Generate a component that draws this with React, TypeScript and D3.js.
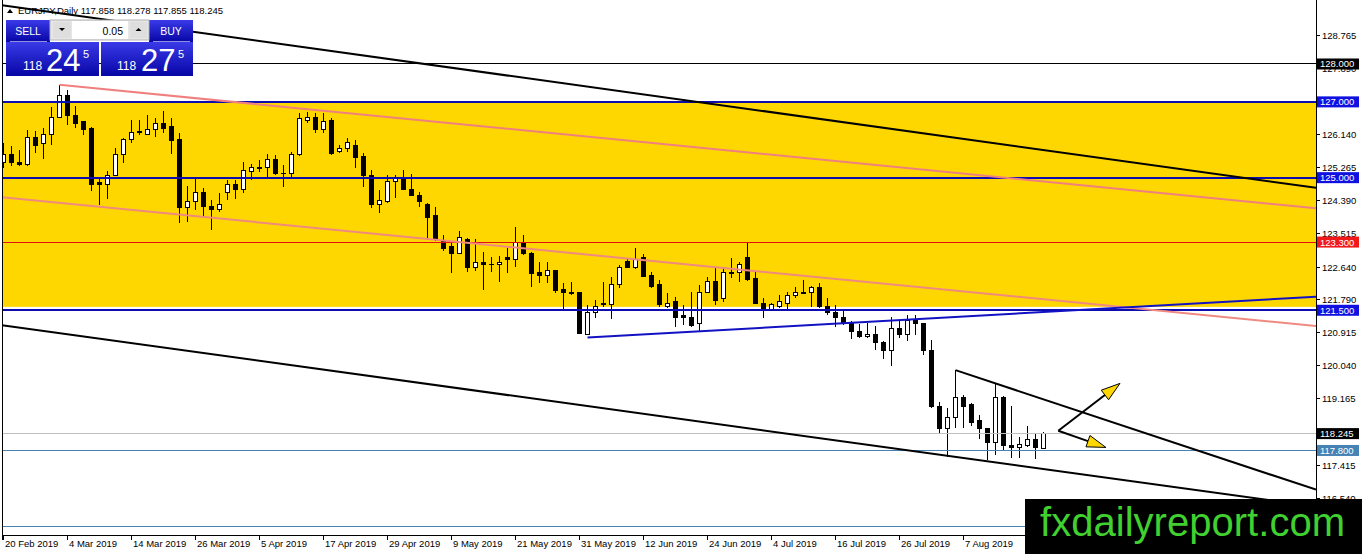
import React from 'react'
import * as d3 from 'd3'

// EURJPY daily candles, 20 Feb 2019 .. 21 Aug 2019
const opens = [
  125.41, 125.62, 125.41, 125.34, 126.07, 125.89, 126.15, 126.6, 127.16, 126.65,
  126.47, 126.31, 124.86, 124.81, 125.07, 125.6, 126.02, 126.23, 126.13, 126.26,
  126.42, 126.34, 126.02, 124.2, 124.36, 124.62, 124.23, 124.15, 124.62, 124.81,
  124.7, 125.15, 125.26, 125.26, 125.49, 125.12, 125.1, 125.6, 126.5, 126.58,
  126.28, 126.5, 125.68, 125.76, 125.86, 125.55, 125.07, 124.3, 124.36, 124.89,
  124.97, 124.7, 124.54, 124.3, 123.99, 123.33, 123.17, 123.01, 123.38, 122.62,
  122.75, 122.72, 122.72, 122.88, 122.85, 123.28, 123.01, 122.51, 122.43, 122.54,
  122.04, 121.96, 121.96, 120.87, 121.45, 121.64, 121.64, 122.19, 122.8, 122.64,
  122.88, 122.43, 122.17, 121.59, 121.72, 121.35, 121.32, 121.14, 121.98, 122.27,
  121.8, 122.48, 122.51, 122.88, 122.33, 121.69, 121.53, 121.61, 121.67, 121.88,
  121.98, 121.98, 122.09, 121.59, 121.45, 121.3, 121.17, 120.95, 120.82, 120.87,
  120.66, 120.45, 121.03, 120.85, 121.24, 121.14, 120.45, 118.97, 118.37, 118.68,
  119.21, 119.0, 118.58, 118.37, 118.02, 119.21, 117.94, 117.87, 117.94, 118.1,
  117.858,
]
const highs = [
  125.92, 125.84, 125.73, 126.26, 126.23, 126.31, 126.87, 127.45, 127.31, 126.89,
  126.5, 126.33, 124.99, 125.18, 125.78, 126.05, 126.52, 126.52, 126.65, 126.58,
  126.76, 126.58, 126.18, 124.78, 125.02, 124.73, 124.41, 124.6, 124.94, 124.94,
  125.41, 125.36, 125.47, 125.62, 125.6, 125.33, 125.68, 126.71, 126.73, 126.71,
  126.71, 126.58, 125.86, 126.05, 125.99, 125.65, 125.2, 124.67, 125.07, 125.07,
  125.2, 125.1, 124.62, 124.32, 124.23, 123.49, 123.28, 123.59, 123.4, 123.38,
  123.04, 122.91, 122.93, 123.14, 123.7, 123.49, 123.03, 122.77, 122.77, 122.56,
  122.22, 122.25, 121.98, 121.64, 121.77, 122.25, 122.38, 122.7, 122.88, 123.14,
  122.99, 122.51, 122.3, 121.96, 121.85, 121.64, 121.98, 122.17, 122.38, 122.62,
  122.64, 122.88, 122.77, 123.3, 122.51, 121.82, 121.69, 121.9, 121.98, 122.12,
  122.3, 122.14, 122.22, 121.82, 121.64, 121.48, 121.22, 121.14, 121.17, 121.09,
  120.68, 121.32, 121.24, 121.38, 121.38, 121.16, 120.72, 119.08, 118.92, 119.92,
  119.26, 119.05, 118.74, 118.39, 119.58, 119.24, 118.97, 118.16, 118.45, 118.26,
  118.278,
]
const lows = [
  125.26, 125.31, 125.31, 125.31, 125.65, 125.49, 125.86, 126.58, 126.39, 126.31,
  126.13, 124.65, 124.28, 124.44, 125.05, 125.39, 125.92, 126.13, 126.12, 126.07,
  126.18, 125.62, 123.8, 123.83, 124.15, 123.96, 123.62, 124.09, 124.41, 124.44,
  124.6, 124.94, 125.15, 124.96, 125.07, 124.75, 124.99, 125.58, 126.44, 126.18,
  126.18, 125.6, 125.64, 125.68, 125.26, 124.75, 124.2, 124.07, 124.34, 124.46,
  124.68, 124.52, 124.23, 123.35, 123.33, 123.07, 122.48, 122.99, 122.51, 122.54,
  122.03, 122.51, 122.25, 122.48, 122.64, 122.96, 122.12, 122.22, 122.22, 121.96,
  121.53, 121.9, 120.87, 120.85, 121.3, 121.59, 121.27, 122.09, 122.62, 122.59,
  122.38, 122.09, 121.59, 121.57, 121.06, 121.11, 121.06, 120.93, 121.95, 121.64,
  121.72, 122.35, 122.25, 122.28, 121.67, 121.3, 121.52, 121.56, 121.53, 121.82,
  121.92, 121.59, 121.56, 121.38, 121.06, 121.11, 120.74, 120.77, 120.77, 120.45,
  120.21, 120.03, 120.77, 120.69, 120.85, 120.32, 118.92, 118.26, 117.63, 118.39,
  118.39, 118.45, 118.1, 117.55, 117.68, 117.81, 117.6, 117.6, 117.89, 117.57,
  117.855,
]
const closes = [
  125.6, 125.41, 125.36, 126.07, 125.86, 126.15, 126.6, 127.16, 126.65, 126.44,
  126.28, 124.83, 124.81, 125.07, 125.62, 126.02, 126.18, 126.18, 126.28, 126.42,
  126.31, 125.99, 124.2, 124.36, 124.6, 124.23, 124.15, 124.3, 124.81, 124.7,
  125.18, 125.26, 125.23, 125.49, 125.1, 125.1, 125.6, 126.55, 126.58, 126.26,
  126.47, 125.65, 125.78, 125.94, 125.52, 125.07, 124.28, 124.41, 124.91, 124.97,
  124.7, 124.54, 124.38, 123.96, 123.38, 123.14, 123.01, 123.43, 122.62, 122.75,
  122.72, 122.71, 122.77, 122.85, 123.28, 123.01, 122.48, 122.43, 122.54, 122.01,
  121.96, 121.95, 120.9, 121.43, 121.61, 121.67, 122.19, 122.62, 122.64, 122.85,
  122.4, 122.14, 121.64, 121.69, 121.32, 121.32, 121.11, 121.96, 122.27, 121.77,
  122.51, 122.51, 122.7, 122.3, 121.69, 121.53, 121.64, 121.72, 121.9, 121.96,
  121.94, 122.09, 121.59, 121.45, 121.3, 121.17, 120.95, 120.82, 120.87, 120.66,
  120.45, 121.03, 120.85, 121.22, 121.14, 120.43, 118.95, 118.39, 118.68, 119.21,
  118.97, 118.55, 118.37, 118.02, 119.21, 117.92, 117.87, 117.97, 118.1, 117.89,
  118.245,
]

const dateTicks = [
  '20 Feb 2019', '4 Mar 2019', '14 Mar 2019', '26 Mar 2019', '5 Apr 2019', '17 Apr 2019',
  '29 Apr 2019', '9 May 2019', '21 May 2019', '31 May 2019', '12 Jun 2019', '24 Jun 2019',
  '4 Jul 2019', '16 Jul 2019', '26 Jul 2019', '7 Aug 2019',
]
const priceTicks = [
  128.765, 127.89, 127.015, 126.14, 125.265, 124.39, 123.515, 122.64, 121.79, 120.915,
  120.04, 119.165, 118.29, 117.415, 116.54,
]

// horizontal levels
const blueLevels = [127.0, 125.0, 121.5]
const blackLevel = 128.0
const redLevel = 123.3
const steelLevels = [117.8, 115.8]
const bid = 118.245
const zone = [121.59, 126.98]

// trend lines: [bar index, price]
const channelTop = [[0, 129.544], [130, 125.73]]
const channelBottom = [[0, 121.1], [130, 117.31]]
const pinkTop = [[7, 127.45], [130, 124.9]]
const pinkBottom = [[0, 124.48], [130, 121.79]]
const blueRising = [[73, 120.78], [111, 121.23]]
const wedgeTop = [[119, 119.92], [130, 119.15]]
const arrowStart = [131.85, 118.32]
const arrowTips = [[139.56, 119.57], [137.8, 117.88]]

const W = 1362
const H = 554
const left = 2
const right = 1316
const top = 2
const bottom = 535
const font = "'Liberation Sans', Arial, sans-serif"

const days = d3
  .timeDays(new Date(2019, 1, 20), new Date(2019, 7, 22))
  .filter(d => d.getDay() !== 0 && d.getDay() !== 6)
const fmt = d3.timeFormat('%-d %b %Y')

const x = d3.scaleLinear().domain([0, closes.length - 1]).range([3.5, 1043.5])
const y = d3.scaleLinear().domain([115.569, 129.636]).range([bottom, top])

const fmt3 = d3.format('.3f')

function extend(pts: number[][], both: boolean) {
  const x1 = x(pts[0][0]), y1 = y(pts[0][1])
  const x2 = x(pts[1][0]), y2 = y(pts[1][1])
  const k = (y2 - y1) / (x2 - x1)
  const xs = both ? left : x1
  return { x1: xs, y1: y1 + k * (xs - x1), x2: right, y2: y1 + k * (right - x1) }
}

function arrow(from: number[], to: number[]) {
  const x1 = x(from[0]), y1 = y(from[1])
  const x2 = x(to[0]), y2 = y(to[1])
  const a = Math.atan2(y2 - y1, x2 - x1)
  const len = 19, half = 6
  const bx = x2 - len * Math.cos(a), by = y2 - len * Math.sin(a)
  const nx = -Math.sin(a) * half, ny = Math.cos(a) * half
  return {
    shaft: { x1, y1, x2: bx, y2: by },
    head: `${x2},${y2} ${bx + nx},${by + ny} ${bx - nx},${by - ny}`,
  }
}

const PriceTag = ({ v, bg }: { v: number; bg: string }) => (
  <g>
    <rect x={1317} y={y(v) - 5.5} width={42} height={11} fill={bg} />
    <text x={1320} y={y(v) + 3.5} fill="#fff" fontSize={9.5} fontFamily={font}>
      {fmt3(v)}
    </text>
  </g>
)

const App = () => {
  const lines = [
    { l: extend(channelTop, true), c: '#000', w: 2 },
    { l: extend(channelBottom, true), c: '#000', w: 2 },
    { l: extend(pinkTop, false), c: '#f08080', w: 2 },
    { l: extend(pinkBottom, true), c: '#f08a80', w: 2 },
    { l: extend(blueRising, false), c: '#1212c4', w: 2 },
    { l: extend(wedgeTop, false), c: '#000', w: 2 },
  ]
  const arrows = arrowTips.map(t => arrow(arrowStart, t))

  return (
    <>
      <style>{`body{margin:0}`}</style>
      <svg width={W} height={H} style={{ display: 'block' }}>
        <defs>
          <clipPath id="plot">
            <rect x={left} y={top} width={right - left} height={bottom - top} />
          </clipPath>
          <linearGradient id="btn" x1="0" y1="0" x2="0" y2="1">
            <stop offset="0" stopColor="#3a3ae8" />
            <stop offset="1" stopColor="#0606a6" />
          </linearGradient>
        </defs>
        <rect width={W} height={H} fill="#fff" />

        <g clipPath="url(#plot)">
          <rect
            x={left}
            y={y(zone[1])}
            width={right - left}
            height={y(zone[0]) - y(zone[1])}
            fill="#ffd700"
          />

          {/* candles */}
          <g shapeRendering="crispEdges">
            {closes.map((c, i) => {
              const o = opens[i]
              const cx = x(i)
              const yt = y(Math.max(o, c))
              const yb = y(Math.min(o, c))
              return (
                <g key={i}>
                  <line x1={cx} x2={cx} y1={y(highs[i])} y2={y(lows[i])} stroke="#000" />
                  <rect
                    x={cx - 2}
                    y={yt}
                    width={4}
                    height={Math.max(yb - yt, 0)}
                    fill={c >= o ? '#fff' : '#000'}
                    stroke="#000"
                  />
                </g>
              )
            })}
          </g>

          {/* levels */}
          <g shapeRendering="crispEdges">
            <line x1={left} x2={right} y1={y(blackLevel)} y2={y(blackLevel)} stroke="#000" />
            <line x1={left} x2={right} y1={y(redLevel)} y2={y(redLevel)} stroke="#e01010" />
            <line x1={left} x2={right} y1={y(bid)} y2={y(bid)} stroke="#c0c0c0" />
            {steelLevels.map(v => (
              <line key={v} x1={left} x2={right} y1={y(v)} y2={y(v)} stroke="#4682b4" />
            ))}
            {blueLevels.map(v => (
              <line key={v} x1={left} x2={right} y1={y(v)} y2={y(v)} stroke="#0c0cb0" strokeWidth={2} />
            ))}
          </g>

          {lines.map((d, i) => (
            <line key={i} {...d.l} stroke={d.c} strokeWidth={d.w} />
          ))}

          {arrows.map((a, i) => (
            <g key={i}>
              <line {...a.shaft} stroke="#000" strokeWidth={2} />
              <polygon points={a.head} fill="#ffd700" stroke="#000" strokeWidth={1} />
            </g>
          ))}
        </g>

        {/* frame and axes */}
        <g shapeRendering="crispEdges" stroke="#000">
          <line x1={left + 0.5} x2={left + 0.5} y1={0} y2={bottom + 5} />
          <line x1={left} x2={right} y1={bottom + 0.5} y2={bottom + 0.5} />
          <line x1={right + 0.5} x2={right + 0.5} y1={0} y2={H} />
        </g>

        {priceTicks.map(t => (
          <g key={t}>
            <line x1={right} x2={right + 4} y1={y(t)} y2={y(t)} stroke="#000" shapeRendering="crispEdges" />
            <text x={1322} y={y(t) + 3.5} fontSize={9.5} fontFamily={font} fill="#000">
              {fmt3(t)}
            </text>
          </g>
        ))}

        {dateTicks.map(lbl => {
          const i = days.findIndex(d => fmt(d) === lbl)
          return (
            <g key={lbl}>
              <line x1={x(i)} x2={x(i)} y1={bottom} y2={bottom + 5} stroke="#000" shapeRendering="crispEdges" />
              <text x={x(i) + 1.5} y={bottom + 12} fontSize={9.5} fontFamily={font} fill="#000">
                {lbl}
              </text>
            </g>
          )
        })}

        <PriceTag v={blackLevel} bg="#000" />
        {blueLevels.map(v => (
          <PriceTag key={v} v={v} bg="#1010e0" />
        ))}
        <PriceTag v={redLevel} bg="#f01818" />
        <PriceTag v={bid} bg="#000" />
        <PriceTag v={steelLevels[0]} bg="#4682b4" />

        {/* header */}
        <polygon points="7,13 13,13 10,9" fill="#000" />
        <text x={18} y={13.5} fontSize={9.5} fontFamily={font} fill="#000">
          EURJPY,Daily  117.858 118.278 117.855 118.245
        </text>

        {/* one click trading panel */}
        <g fontFamily={font}>
          <rect x={6} y={20} width={44} height={22} fill="url(#btn)" />
          <rect x={6} y={42} width={93} height={34} fill="url(#btn)" />
          <rect x={149} y={20} width={44} height={22} fill="url(#btn)" />
          <rect x={101} y={42} width={92} height={34} fill="url(#btn)" />
          <line x1={10} x2={47} y1={41.5} y2={41.5} stroke="#9090e0" />
          <line x1={153} x2={190} y1={41.5} y2={41.5} stroke="#9090e0" />
          <rect x={50} y={20} width={99} height={20} fill="#e6e6e6" stroke="#b4b4b4" />
          <rect x={72} y={21} width={56} height={18} fill="#fff" />
          <rect x={53} y={22} width={18} height={16} fill="#dedede" />
          <rect x={130} y={22} width={17} height={16} fill="#dedede" />
          <polygon points="59,28 65,28 62,31" fill="#000" />
          <polygon points="135.5,31 141.5,31 138.5,28" fill="#000" />
          <text x={123} y={35} fontSize={10.5} textAnchor="end" fill="#000">0.05</text>
          <text x={28} y={35} fontSize={10.5} textAnchor="middle" fill="#fff">SELL</text>
          <text x={171} y={35} fontSize={10.5} textAnchor="middle" fill="#fff">BUY</text>

          <text x={23} y={70} fontSize={12} fill="#fff">118</text>
          <text x={46} y={70.5} fontSize={31} fill="#fff">24</text>
          <text x={83} y={58} fontSize={11} fill="#fff">5</text>
          <text x={117} y={70} fontSize={12} fill="#fff">118</text>
          <text x={141} y={70.5} fontSize={31} fill="#fff">27</text>
          <text x={178} y={58} fontSize={11} fill="#fff">5</text>
        </g>

        {/* watermark */}
        <rect x={1025} y={499} width={W - 1025} height={H - 499} fill="#000" />
        <text x={1040} y={536} fontSize={40} fontFamily={font} fill="#40d030" textLength={305}>
          fxdailyreport.com
        </text>
      </svg>
    </>
  )
}

export default App
